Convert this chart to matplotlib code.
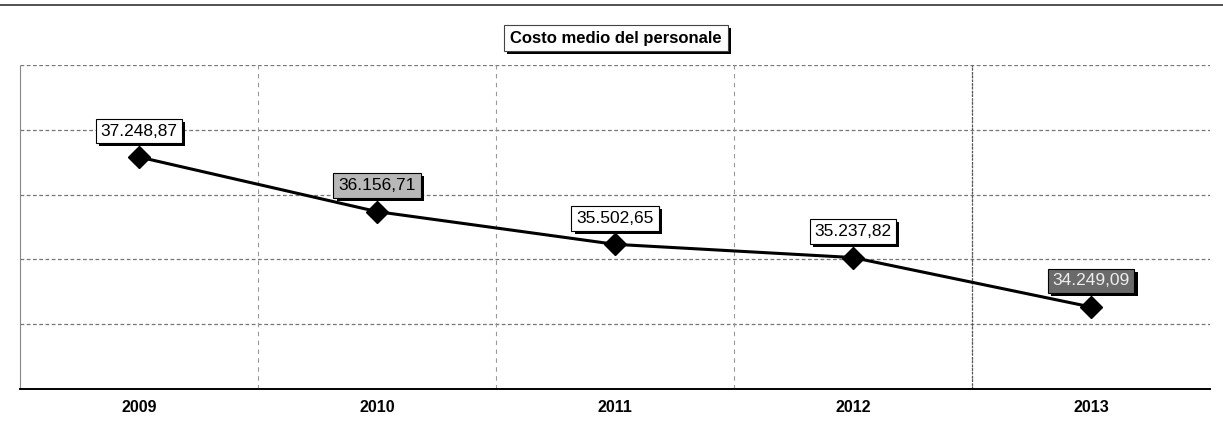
import matplotlib.pyplot as plt
import matplotlib.patheffects as pe
from matplotlib.lines import Line2D
import numpy as np

plt.rcParams['font.family'] = ['Liberation Sans', 'DejaVu Sans']

years = ["2009", "2010", "2011", "2012", "2013"]
costs = [37248.87, 36156.71, 35502.65, 35237.82, 34249.09]
labels = ["37.248,87", "36.156,71", "35.502,65", "35.237,82", "34.249,09"]
title = "Costo medio del personale"

W, H = 1223, 421
fig = plt.figure(figsize=(W / 100, H / 100), dpi=100)
ax = fig.add_axes([20 / W, (H - 389) / H, 1190 / W, (389 - 65) / H])

xs = np.arange(len(years))
ax.plot(xs, costs, color="black", lw=2.2, marker="D", ms=11, mfc="black", mec="black", zorder=3)

ax.set_xlim(-0.5, len(years) - 0.5)
ylo, yhi = 32608.87, 39088.87
ax.set_ylim(ylo, yhi)

# grid
for y in np.linspace(ylo, yhi, 6)[1:]:
    ax.axhline(y, color="#777777", lw=0.9, ls=(0, (3, 2)), zorder=1)
for x in xs[:-1] + 0.5:
    ax.axvline(x, color="#999999", lw=0.8, ls=(0, (4, 4)), zorder=1)
ax.axvline(xs[-1] - 0.5, color="#555555", lw=0.9, ls=(0, (2, 1)), zorder=1)

ax.set_xticks(xs, labels=years, fontsize=11.5, fontweight="bold")
ax.set_yticks([])
ax.tick_params(axis="x", length=0, pad=8)
for s in ["top", "right"]:
    ax.spines[s].set_visible(False)
ax.spines["left"].set_color("#888888")
ax.spines["left"].set_linestyle((0, (1, 1)))
ax.spines["bottom"].set_color("black")
ax.spines["bottom"].set_linewidth(1.4)

shadow = [pe.SimplePatchShadow(offset=(2.2, -2.2), shadow_rgbFace="black", alpha=1), pe.Normal()]

faces = ["white", "#b8b8b8", "white", "white", "#6a6a6a"]
tcols = ["black", "black", "black", "black", "#eeeeee"]
for x, v, lab, fc, tc in zip(xs, costs, labels, faces, tcols):
    t = ax.annotate(lab, (x, v), xytext=(0, 26), textcoords="offset pixels",
                    ha="center", va="center", fontsize=12.5, color=tc, zorder=5,
                    bbox=dict(boxstyle="square,pad=0.28", fc=fc, ec="black", lw=0.8))
    t.get_bbox_patch().set_path_effects(shadow)

# title box with shadow
tt = fig.text(616 / W, 1 - 38 / H, title, ha="center", va="center", fontsize=12, fontweight="bold",
              bbox=dict(boxstyle="square,pad=0.35", fc="white", ec="#444444", lw=0.8))
tt.get_bbox_patch().set_path_effects(shadow)

fig.add_artist(Line2D([0, 1], [1 - 5 / H, 1 - 5 / H], color="#333333", lw=1.2))

fig.savefig("out.png", dpi=100)
